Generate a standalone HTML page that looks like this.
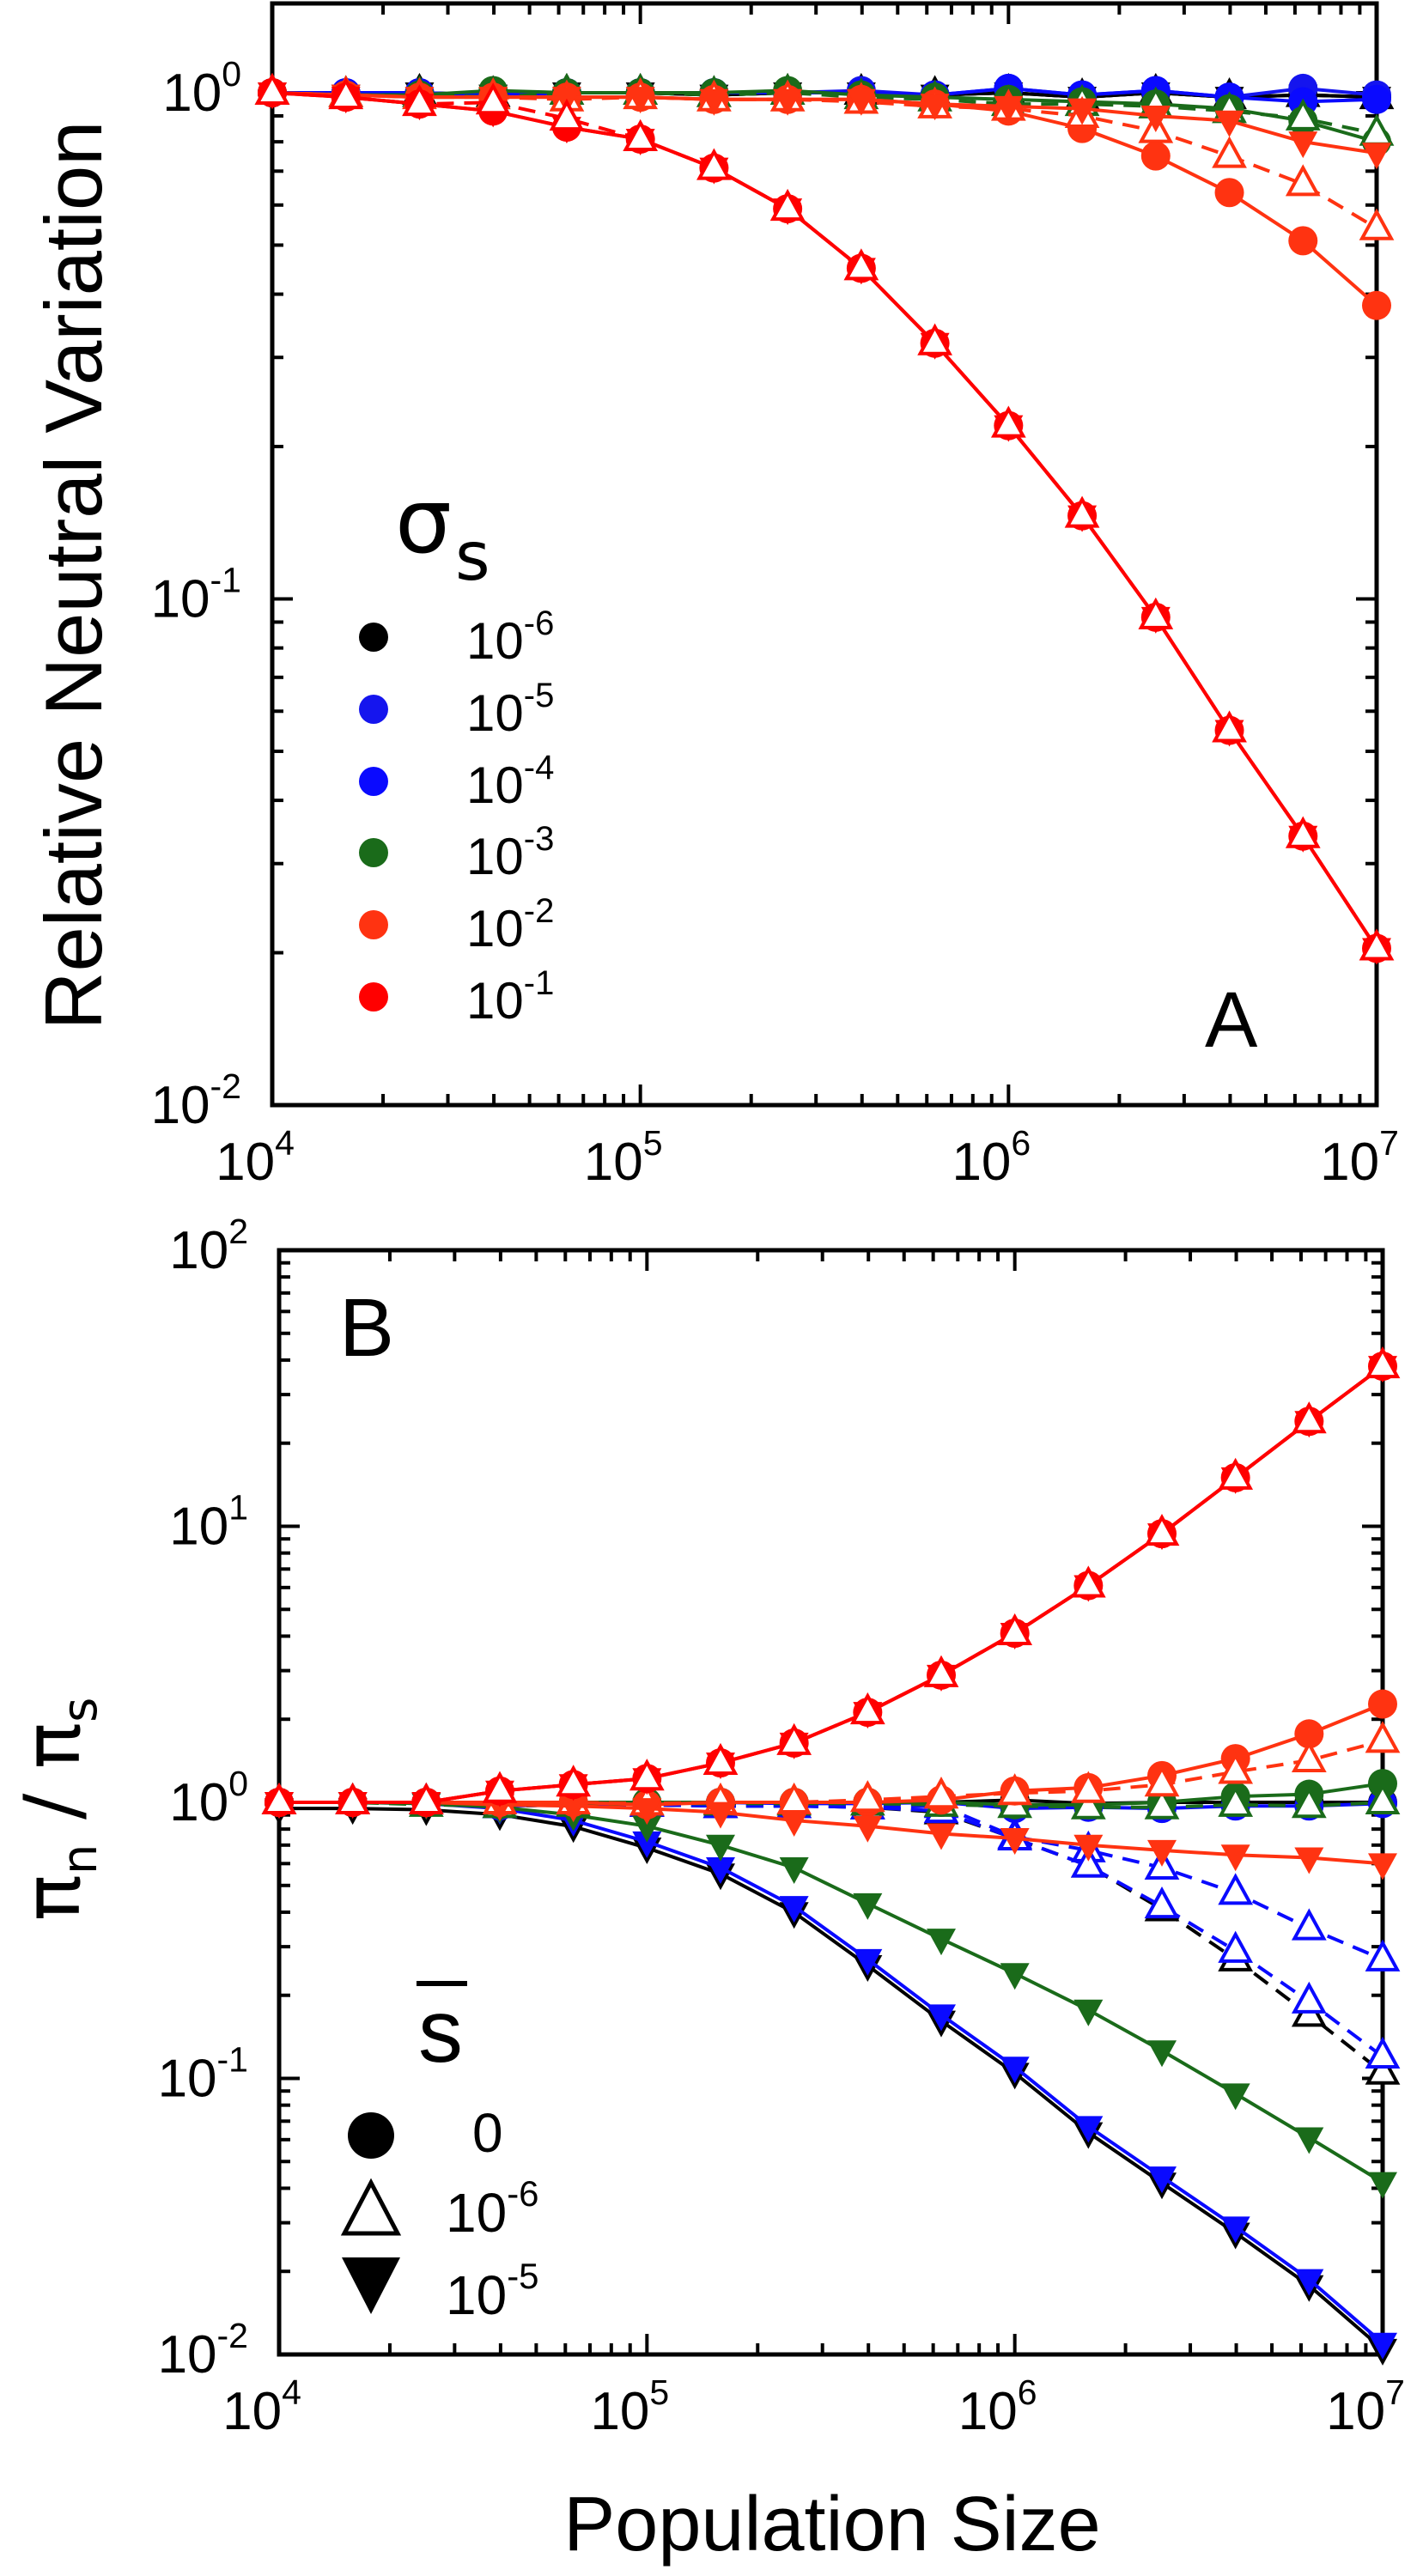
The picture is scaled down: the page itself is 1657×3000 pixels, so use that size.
<!DOCTYPE html>
<html><head><meta charset="utf-8"><style>
html,body{margin:0;padding:0;background:#fff;}
svg{display:block;font-family:"Liberation Sans",Arial,sans-serif;}
</style></head><body>
<svg id="s" width="1657" height="3000" viewBox="0 0 1657 3000" xmlns="http://www.w3.org/2000/svg">
<rect width="1657" height="3000" fill="#fff"/>
<g id="g"></g>
<text x="0" y="0" font-size="94" transform="translate(118,670) rotate(-90)" text-anchor="middle">Relative Neutral Variation</text>
<text x="969" y="2970" font-size="90" text-anchor="middle">Population Size</text>
<text font-size="90" transform="translate(92,2107) rotate(-90)" text-anchor="middle" font-family="DejaVu Sans, sans-serif">π<tspan font-size="56" dy="20">n</tspan><tspan dy="-20" font-size="90"> / π</tspan><tspan font-size="56" dy="20">s</tspan></text>
<text x="1403" y="1219" font-size="92">A</text>
<text x="395" y="1579" font-size="96">B</text>
<text x="460" y="643" font-size="104" font-family="DejaVu Sans, sans-serif">σ</text>
<text x="530" y="675" font-size="78" font-family="DejaVu Sans, sans-serif">s</text>
<line x1="485" y1="2310" x2="544" y2="2310" stroke="#000" stroke-width="6"/>
<text x="487" y="2401" font-size="104">s</text>
</svg>
<script>
const NS="http://www.w3.org/2000/svg";
const G=document.getElementById('g');
function el(t,a,p){const e=document.createElementNS(NS,t);for(const k in a)e.setAttribute(k,a[k]);(p||G).appendChild(e);return e;}
function supText(x,y,base,exp,fs,anchor){
  const t=el('text',{x:x,y:y,'font-size':fs,'text-anchor':anchor||'end'});
  t.textContent=base;
  const s=el('tspan',{'font-size':Math.round(fs*0.66),dy:-Math.round(fs*0.47)},t);s.textContent=exp;
}
const Ns=[];for(let k=0;k<16;k++)Ns.push(4+k/5);
function makePanel(P){
  const {L,R,T,B,ymin,ymax}=P;
  const X=l=>L+(l-4)/3*(R-L);
  const Y=l=>B-(l-ymin)/(ymax-ymin)*(B-T);
  P.X=X;P.Y=Y;
  for(let d=4;d<=7;d++){for(let m=1;m<=9;m++){const l=d+Math.log10(m);if(l>7.0001)break;const len=m==1?24:13;const x=X(l);
    el('line',{x1:x,y1:B,x2:x,y2:B-len,stroke:'#000','stroke-width':4});
    el('line',{x1:x,y1:T,x2:x,y2:T+len,stroke:'#000','stroke-width':4});}}
  for(let d=Math.floor(ymin);d<=Math.ceil(ymax);d++){for(let m=1;m<=9;m++){const l=d+Math.log10(m);if(l>ymax+0.0001||l<ymin-0.0001)continue;const len=m==1?24:13;const y=Y(l);
    el('line',{x1:L,y1:y,x2:L+len,y2:y,stroke:'#000','stroke-width':4});
    el('line',{x1:R,y1:y,x2:R-len,y2:y,stroke:'#000','stroke-width':4});}}
  el('rect',{x:L,y:T,width:R-L,height:B-T,fill:'none',stroke:'#000','stroke-width':5});
  for(let d=4;d<=7;d++)supText(X(d)-20,P.xlab,'10',String(d),62,'middle');
  for(let d=Math.ceil(ymin);d<=Math.floor(ymax);d++)supText(L-36,Y(d)+21,'10',String(d),62,'end');
}
function series(P,s){
  const pts=s.v.map((v,i)=>[P.X(Ns[i]),P.Y(Math.log10(v))]);
  el('polyline',{points:pts.map(p=>p.join(',')).join(' '),fill:'none',stroke:s.c,'stroke-width':4,'stroke-dasharray':s.dash?'20,12':'none'});
  pts.forEach(([x,y])=>{
    if(s.m=='c')el('circle',{cx:x,cy:y,r:17,fill:s.c});
    else if(s.m=='u')el('polygon',{points:`${x},${y-19} ${x-17},${y+12} ${x+17},${y+12}`,fill:'#fff',stroke:s.c,'stroke-width':4});
    else el('polygon',{points:`${x-17},${y-12} ${x+17},${y-12} ${x},${y+19}`,fill:s.c});
  });
}
const A={L:317,R:1603,T:4,B:1287,ymin:-2,xlab:1374};
A.ymax=-2+(1287-4)/589.5;
const Bp={L:325,R:1610,T:1456,B:2742,ymin:-2,ymax:2,xlab:2829};
makePanel(A);makePanel(Bp);
const K='#000',BL='#0a0aff',BL2='#1515ee',GR='#1a6b1a',OR='#ff3311',RD='#ff0000';
const one=[1,0.99,1.0,0.99,1.0,1.0,0.99,1.0,1.0,0.99,1.0,0.98,1.0,0.98,0.99,0.98];
const bone=[1,1,1,0.99,1,1,1.0,1,1.01,0.99,1.02,0.99,1.01,0.98,1.02,0.99];
const redA=[1,0.98,0.95,0.92,0.855,0.81,0.71,0.59,0.45,0.32,0.22,0.146,0.092,0.055,0.034,0.0204];
const sA=[
 {c:K,m:'c',v:one},{c:K,m:'u',dash:1,v:one},{c:K,m:'d',v:one},
 {c:BL2,m:'c',v:bone},{c:BL,m:'c',v:[1,1,1,0.99,1,1,1,1,1,0.99,1.02,0.99,1.01,0.98,0.96,0.97]},
 {c:GR,m:'c',v:[1,0.99,0.99,1.01,1,1,1,1.01,0.99,0.98,0.97,0.96,0.95,0.93,0.88,0.8]},
 {c:GR,m:'u',dash:1,v:[1,0.99,0.99,0.98,1,1,0.99,1,0.98,0.97,0.95,0.95,0.94,0.92,0.89,0.83]},
 {c:OR,m:'c',v:[1,0.99,0.98,0.98,0.98,0.98,0.97,0.97,0.97,0.95,0.92,0.85,0.75,0.635,0.51,0.38]},
 {c:OR,m:'u',dash:1,v:[1,0.99,0.98,0.98,0.97,0.98,0.97,0.97,0.96,0.94,0.93,0.9,0.84,0.75,0.66,0.54]},
 {c:OR,m:'d',v:[1,0.99,0.98,0.98,0.98,0.98,0.97,0.97,0.97,0.95,0.94,0.93,0.9,0.88,0.8,0.76]},
 {c:RD,m:'d',v:redA},{c:RD,m:'c',v:redA},{c:RD,m:'u',dash:1,v:redA.map((v,i)=>i==3||i==4?v*1.04:v)}
];
sA.forEach(s=>series(A,s));
const redB=[1,1,1,1.1,1.16,1.22,1.39,1.64,2.12,2.89,4.1,6.1,9.4,15,24,38];
const downB=[1,1,0.99,0.95,0.86,0.72,0.58,0.42,0.27,0.17,0.11,0.067,0.044,0.029,0.0187,0.011];
const sB=[
 {c:K,m:'c',v:[1,1,1,0.97,0.99,1,1,1,1,1,1.02,0.99,1,1,1,1]},
 {c:K,m:'u',dash:1,v:[1,1,1,0.97,0.98,0.98,0.97,0.97,0.96,0.92,0.74,0.59,0.41,0.27,0.17,0.105]},
 {c:K,m:'d',v:downB.map(v=>v*0.95)},
 {c:BL,m:'c',v:[1,1,1,0.97,0.98,0.99,1,0.99,0.99,1,0.95,0.96,0.95,0.97,0.97,0.99]},
 {c:BL,m:'u',dash:1,v:[1,1,1,0.97,0.98,0.98,0.97,0.97,0.96,0.97,0.75,0.67,0.58,0.47,0.35,0.27]},
 {c:BL,m:'u',dash:1,v:[1,1,1,0.97,0.98,0.98,0.97,0.97,0.96,0.93,0.74,0.59,0.42,0.29,0.19,0.12]},
 {c:BL,m:'d',v:downB},
 {c:GR,m:'c',v:[1,1,1,0.98,1,1,1,1,1,1,0.98,0.98,1,1.05,1.07,1.17]},
 {c:GR,m:'u',dash:1,v:[1,1,0.98,0.97,0.98,0.99,0.99,0.99,0.99,0.98,0.97,0.96,0.96,0.98,0.97,1]},
 {c:GR,m:'d',v:[1,1,0.99,0.96,0.9,0.82,0.7,0.58,0.43,0.32,0.24,0.177,0.126,0.088,0.061,0.042]},
 {c:OR,m:'c',v:[1,1,1,1.0,1.0,0.98,1,1,1,1.02,1.1,1.13,1.25,1.44,1.77,2.27]},
 {c:OR,m:'u',dash:1,v:[1,1,1,1.0,1.0,0.99,1,1,1.02,1.05,1.08,1.1,1.16,1.29,1.42,1.67]},
 {c:OR,m:'d',v:[1,1,1,0.98,0.97,0.95,0.92,0.86,0.82,0.77,0.74,0.7,0.67,0.645,0.63,0.6]},
 {c:RD,m:'d',v:redB},{c:RD,m:'c',v:redB},{c:RD,m:'u',dash:1,v:redB}
];
sB.forEach(s=>series(Bp,s));
const lc=[K,BL2,BL,GR,OR,RD],le=['-6','-5','-4','-3','-2','-1'],ly=[742,826,910,993,1077,1161];
ly.forEach((y,i)=>{el('circle',{cx:435,cy:y,r:17,fill:lc[i]});supText(543,y+25,'10',le[i],60,'start');});
el('ellipse',{cx:432,cy:2487,rx:27,ry:27,fill:'#000'});
el('polygon',{points:'432,2542 401,2601 463,2601',fill:'#fff',stroke:'#000','stroke-width':5});
el('polygon',{points:'398,2629 466,2629 432,2695',fill:'#000'});
const t0=el('text',{x:550,y:2506,'font-size':64});t0.textContent='0';
supText(519,2599,'10','-6',64,'start');supText(519,2695,'10','-5',64,'start');
</script>
</body></html>
